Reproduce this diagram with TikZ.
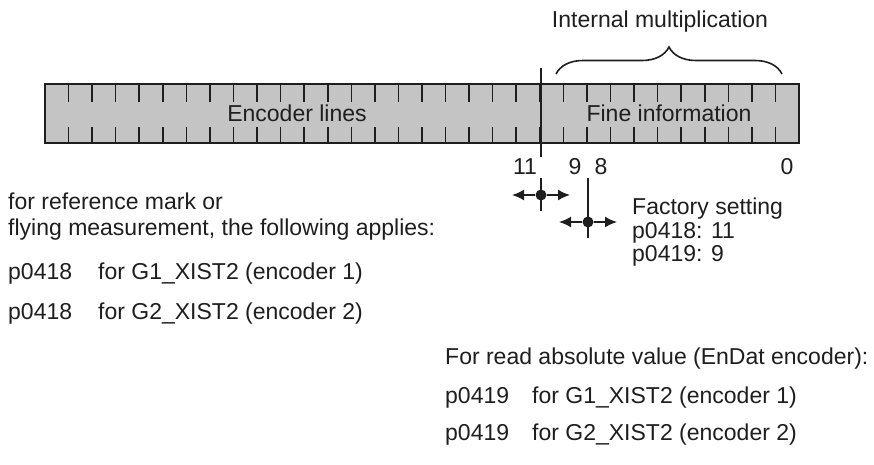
\documentclass[tikz,border=0pt]{standalone}
\usepackage{fontspec}
\setmainfont{Liberation Sans}
\usepackage{tikz}
\usetikzlibrary{arrows.meta, decorations.pathreplacing}
\definecolor{bargray}{RGB}{196,196,196}
\definecolor{mydark}{RGB}{30,30,30}
\tikzset{
  txt/.style={anchor=base west, inner sep=0pt, font=\fontsize{23}{27}\selectfont, text=mydark},
  bitlabel/.style={inner sep=0pt, font=\fontsize{23}{27}\selectfont, text=mydark},
  barline/.style={line width=1.6pt, color=mydark},
  shiftarrow/.style={-{Latex[length=12pt,width=11pt]}, line width=1.6pt, color=mydark},
  pivot/.style={circle, fill=mydark, inner sep=0pt, minimum size=11pt}
}

\begin{document}
\begin{tikzpicture}[x=1pt, y=-1pt]
  \useasboundingbox (0,0) rectangle (874,464);

  % ── register bar ──
  \draw[fill=bargray, draw=mydark, line width=1.6pt] (45,84) rectangle (799,143);
  \foreach \k in {1,...,31} {
    \draw[barline] (45+\k*23.5625, 84) -- ++(0,18);
    \draw[barline] (45+\k*23.5625, 143) -- ++(0,-16);
  }
  \draw[barline] (541,68) -- (541,157);
  \node[bitlabel] (enc) at (297,113) {Encoder lines};
  \node[bitlabel] (fine) at (669,113) {Fine information};

  % brace over the fine part
  \draw[barline, decorate, decoration={brace, amplitude=27pt}] (556,74) -- (782,74);
  \node[bitlabel, anchor=base] (mult) at (660,27) {Internal multiplication};

  % bit numbers
  \node[bitlabel] (b11) at (525,167) {11};
  \node[bitlabel] (b9) at (575,167) {9};
  \node[bitlabel] (b8) at (601,167) {8};
  \node[bitlabel] (b0) at (787,167) {0};

  % shift markers
  \node[pivot] (p1) at (541,195) {};
  \coordinate (p1l) at (512,195);
  \coordinate (p1r) at (570,195);
  \draw[barline] (541,178) -- (541,211);
  \draw[shiftarrow] (p1) -- (p1l);
  \draw[shiftarrow] (p1) -- (p1r);

  \node[pivot] (p2) at (588,222) {};
  \coordinate (p2l) at (559,222);
  \coordinate (p2r) at (617,222);
  \draw[barline] (588,178) -- (588,238);
  \draw[shiftarrow] (p2) -- (p2l);
  \draw[shiftarrow] (p2) -- (p2r);

  % factory setting
  \node[txt] (fac) at (632,214) {Factory setting};
  \node[txt] (fac1) at (632,238) {p0418: 11};
  \node[txt] (fac2) at (632,261) {p0419: 9};

  % reference mark / flying measurement
  \node[txt] (ref1) at (8,209) {for reference mark or};
  \node[txt] (ref2) at (8,235) {flying measurement, the following applies:};
  \node[txt] (ref3) at (8,279) {p0418};
  \node[txt] (ref3b) at (98,279) {for G1\_XIST2 (encoder 1)};
  \node[txt] (ref4) at (8,319) {p0418};
  \node[txt] (ref4b) at (98,319) {for G2\_XIST2 (encoder 2)};

  % absolute value
  \node[txt] (abs1) at (445,364) {For read absolute value (EnDat encoder):};
  \node[txt] (abs2) at (445,403) {p0419};
  \node[txt] (abs2b) at (532,403) {for G1\_XIST2 (encoder 1)};
  \node[txt] (abs3) at (445,440) {p0419};
  \node[txt] (abs3b) at (532,440) {for G2\_XIST2 (encoder 2)};
\end{tikzpicture}
\end{document}
